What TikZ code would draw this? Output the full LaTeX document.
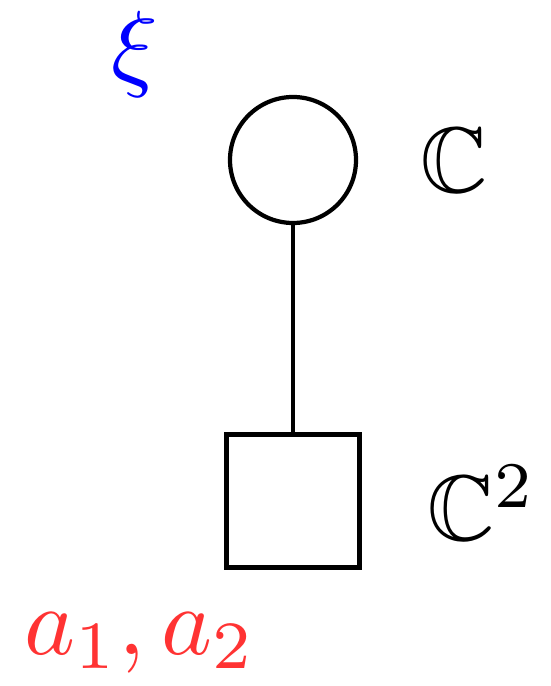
\documentclass[tikz,border=0pt]{standalone}
\usepackage{amsmath}
\usepackage{amssymb}
\usepackage{xcolor}
\definecolor{flavRed}{rgb}{1, 0.2, 0.2}
\usetikzlibrary{positioning}

\begin{document}
\begin{tikzpicture}[every node/.style={inner sep=0pt}]
  \useasboundingbox (0,0) rectangle (11,13.72);
  % gauge node and flavour node
  \node[circle, draw, line width=2.4pt, minimum size=2.52cm] (gauge) at (5.86,10.52) {};
  \node[rectangle, draw, line width=2.4pt, minimum size=2.66cm] (flavour) at (5.86,3.70) {};
  \draw[line width=2.4pt] (gauge) -- (flavour);
  % labels
  \node[scale=5.3] (gaugelab) at (9.08,10.52) {$\mathbb{C}$};
  \node[scale=5.3] (flavlab) at (9.64,3.66) {$\mathbb{C}^2$};
  \node[scale=5.5, blue] (fi) at (2.7,12.64) {$\xi$};
  \node[scale=5.5, flavRed] (masses) at (2.8,0.86) {$a_1, a_2$};
\end{tikzpicture}
\end{document}
